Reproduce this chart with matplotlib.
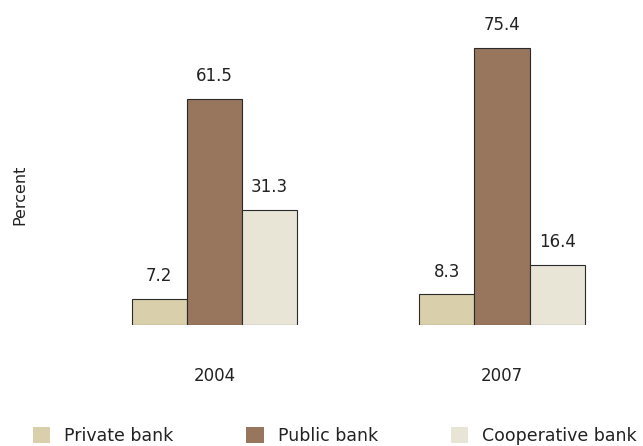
import matplotlib
matplotlib.use("Agg")
import matplotlib.pyplot as plt
from matplotlib.patches import Patch
import numpy as np

years = ["2004", "2007"]
series = ["Private bank", "Public bank", "Cooperative bank"]
private = [7.2, 8.3]
public = [61.5, 75.4]
cooperative = [31.3, 16.4]
colors = ["#d9cfab", "#98765e", "#e8e4d6"]

plt.rcParams['font.family'] = ['DejaVu Sans']
fig = plt.figure(figsize=(6.43, 4.46), dpi=100)
W, H = 643, 446
left_px, right_px, top_px, base_px = 100, 620, 20, 325
ax = fig.add_axes([left_px / W, (H - base_px) / H, (right_px - left_px) / W, (base_px - top_px) / H])

x = np.arange(len(years))
bw = 0.192
offsets = [-bw, 0, bw]
for vals, off, c, name in zip([private, public, cooperative], offsets, colors, series):
    bars = ax.bar(x + off, vals, width=bw, color=c, edgecolor="#2a2a2a", linewidth=0.8, label=name)
    for b, v in zip(bars, vals):
        ax.annotate(f"{v}", (b.get_x() + b.get_width() / 2, v), xytext=(0, 10),
                    textcoords="offset points", ha="center", va="bottom", fontsize=12, color="#222222")

px_per_unit = 287.5
cx0 = 214.5
ax.set_xlim((left_px - cx0) / px_per_unit, (right_px - cx0) / px_per_unit)
ax.set_ylim(0, (base_px - top_px) / 3.675)
for s in ax.spines.values():
    s.set_visible(False)
ax.set_yticks([])
ax.set_xticks(x)
ax.set_xticklabels(years, fontsize=12, color="#222222")
ax.tick_params(axis="x", length=0, pad=30)

fig.text(20 / W, 1 - 195 / H, "Percent", rotation=90, ha="center", va="center", fontsize=11.5, color="#222222")

handles = [Patch(facecolor=c, edgecolor="none") for c in colors]
fig.legend(handles, series, loc="center left", bbox_to_anchor=(33 / W, 1 - 436 / H), ncol=3,
           frameon=False, fontsize=12.5, handlelength=1.0, handleheight=1.05, handletextpad=0.8,
           columnspacing=4.2, borderaxespad=0, borderpad=0, labelcolor="#222222")

fig.savefig("out.png", dpi=100)
